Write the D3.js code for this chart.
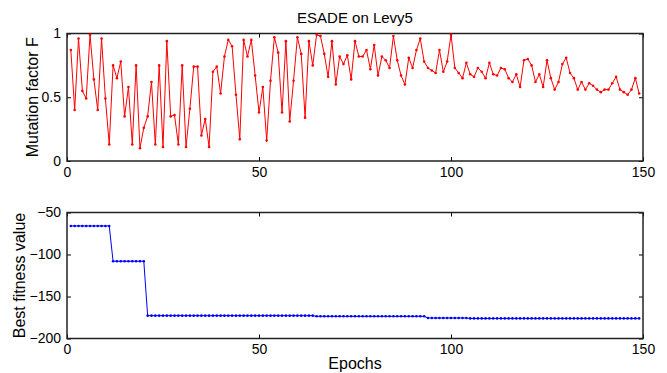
<!DOCTYPE html>
<html>
<head>
<meta charset="utf-8">
<script src="https://cdn.jsdelivr.net/npm/d3@7"></script>
<style>
  body { margin: 0; background: #fff; }
  svg { display: block; font-family: "Liberation Sans", Arial, Helvetica, sans-serif; }
</style>
</head>
<body>
<svg id="chart" width="667" height="373"></svg>
<script>
// F values per epoch (epochs 1..149)
const mutationF = [
  0.87, 0.40, 0.96, 0.55, 0.49, 0.99, 0.64, 0.40, 0.96, 0.49,
  0.13, 0.75, 0.65, 0.78, 0.35, 0.58, 0.13, 0.75, 0.10, 0.26,
  0.35, 0.62, 0.13, 0.75, 0.11, 0.94, 0.35, 0.36, 0.13, 0.75,
  0.11, 0.41, 0.74, 0.74, 0.20, 0.33, 0.11, 0.70, 0.74, 0.53,
  0.82, 0.95, 0.90, 0.52, 0.17, 0.95, 0.82, 0.95, 0.67, 0.38,
  0.58, 0.16, 0.63, 0.97, 0.85, 0.38, 0.94, 0.31, 0.63, 0.97,
  0.84, 0.34, 0.94, 0.75, 0.99, 0.98, 0.84, 0.66, 0.94, 0.60,
  0.82, 0.76, 0.83, 0.64, 0.94, 0.82, 0.82, 0.87, 0.72, 0.91,
  0.67, 0.82, 0.79, 0.73, 0.98, 0.79, 0.67, 0.60, 0.81, 0.73,
  0.87, 0.96, 0.78, 0.73, 0.71, 0.69, 0.87, 0.70, 0.78, 0.99,
  0.73, 0.69, 0.65, 0.77, 0.68, 0.66, 0.73, 0.70, 0.65, 0.77,
  0.68, 0.67, 0.73, 0.72, 0.65, 0.62, 0.68, 0.58, 0.79, 0.80,
  0.75, 0.62, 0.68, 0.58, 0.79, 0.65, 0.56, 0.62, 0.76, 0.81,
  0.69, 0.65, 0.56, 0.62, 0.56, 0.61, 0.59, 0.56, 0.54, 0.56,
  0.56, 0.61, 0.66, 0.56, 0.54, 0.52, 0.56, 0.65, 0.53
];

// best fitness per epoch (epochs 1..149)
const bestFitness = [
  -66, -66, -66, -66, -66, -66, -66, -66, -66, -66,
  -66, -108, -108, -108, -108, -108, -108, -108, -108, -108,
  -172.8, -172.8, -172.8, -172.8, -172.8, -172.8, -172.8, -172.8, -172.8, -172.8,
  -172.8, -172.8, -172.8, -172.8, -172.8, -172.8, -172.8, -172.8, -172.8, -172.8,
  -172.8, -172.8, -172.8, -172.8, -172.8, -172.8, -172.8, -172.8, -172.8, -172.8,
  -172.8, -172.8, -172.8, -172.8, -172.8, -172.8, -172.8, -172.8, -172.8, -172.8,
  -172.8, -172.8, -172.8, -172.8, -173.6, -173.6, -173.6, -173.6, -173.6, -173.6,
  -173.6, -173.6, -173.6, -173.6, -173.6, -173.6, -173.6, -173.6, -173.6, -173.6,
  -173.6, -173.6, -173.6, -173.6, -173.6, -173.6, -173.6, -173.6, -173.6, -173.6,
  -173.6, -173.6, -173.6, -175.6, -175.6, -175.6, -175.6, -175.6, -175.6, -175.6,
  -175.6, -175.6, -175.6, -175.6, -176.1, -176.1, -176.1, -176.1, -176.1, -176.1,
  -176.1, -176.1, -176.1, -176.1, -176.1, -176.1, -176.1, -176.1, -176.1, -176.1,
  -176.1, -176.1, -176.1, -176.1, -176.1, -176.1, -176.1, -176.1, -176.1, -176.1,
  -176.1, -176.1, -176.1, -176.1, -176.1, -176.1, -176.1, -176.1, -176.1, -176.1,
  -176.1, -176.1, -176.1, -176.1, -176.1, -176.1, -176.1, -176.1, -176.1
];

const epochTicks = [0, 50, 100, 150];
const fTicks = [0, 0.5, 1];
const fitnessTicks = [-50, -100, -150, -200];

const svg = d3.select('#chart');
const left = 67, right = 643;

const x = d3.scaleLinear().domain([0, 150]).range([left, right]);

/**
 * Draws one MATLAB-style boxed panel with inward ticks on all sides.
 */
function drawPanel(opts) {
  const y = d3.scaleLinear().domain(opts.yDomain).range([opts.bottom, opts.top]);
  const g = svg.append('g');
  const tickLen = 4;
  const fmt = (d) => (d < 0 ? '\u2212' + Math.abs(d) : String(d));

  const xAxisB = d3.axisBottom(x).tickValues(epochTicks).tickSizeInner(-tickLen)
      .tickSizeOuter(0).tickPadding(6).tickFormat(fmt);
  const xAxisT = d3.axisTop(x).tickValues(epochTicks).tickSizeInner(-tickLen)
      .tickSizeOuter(0).tickFormat('');
  const yAxisL = d3.axisLeft(y).tickValues(opts.yTicks).tickSizeInner(-tickLen)
      .tickSizeOuter(0).tickPadding(6).tickFormat(fmt);
  const yAxisR = d3.axisRight(y).tickValues(opts.yTicks).tickSizeInner(-tickLen)
      .tickSizeOuter(0).tickFormat('');

  g.append('g').attr('transform', 'translate(0,' + opts.bottom + ')').call(xAxisB);
  g.append('g').attr('transform', 'translate(0,' + opts.top + ')').call(xAxisT);
  g.append('g').attr('transform', 'translate(' + left + ',0)').call(yAxisL);
  g.append('g').attr('transform', 'translate(' + right + ',0)').call(yAxisR);
  g.selectAll('.domain').remove();
  g.selectAll('.tick line').attr('stroke', '#000').attr('stroke-width', 1);
  g.selectAll('.tick text').attr('fill', '#000').style('font-size', '14px');

  g.append('rect')
      .attr('x', left).attr('y', opts.top)
      .attr('width', right - left).attr('height', opts.bottom - opts.top)
      .attr('fill', 'none').attr('stroke', '#222').attr('stroke-width', 1.5);

  const pts = opts.data.map((v, i) => [i + 1, v]);
  const line = d3.line().x((d) => x(d[0])).y((d) => y(d[1]));
  g.append('path').datum(pts)
      .attr('d', line).attr('fill', 'none')
      .attr('stroke', opts.color).attr('stroke-width', 1);
  g.selectAll('circle.pt').data(pts).enter().append('circle')
      .attr('class', 'pt')
      .attr('cx', (d) => x(d[0])).attr('cy', (d) => y(d[1]))
      .attr('r', 1.3).attr('fill', opts.color);

  g.append('text')
      .attr('transform', 'translate(' + opts.labelX + ',' + (opts.top + opts.bottom) / 2 + ') rotate(-90)')
      .attr('text-anchor', 'middle')
      .style('font-size', '16px')
      .text(opts.yLabel);
  return g;
}

drawPanel({
  top: 33.5, bottom: 161, yDomain: [0, 1], yTicks: fTicks,
  data: mutationF, color: '#ff0000', yLabel: 'Mutation factor F', labelX: 38
});

drawPanel({
  top: 212.5, bottom: 338.5, yDomain: [-200, -50], yTicks: fitnessTicks,
  data: bestFitness, color: '#0000ff', yLabel: 'Best fitness value', labelX: 25
});

svg.append('text')
    .attr('x', (left + right) / 2).attr('y', 23)
    .attr('text-anchor', 'middle').style('font-size', '15px')
    .text('ESADE on Levy5');

svg.append('text')
    .attr('x', (left + right) / 2).attr('y', 369)
    .attr('text-anchor', 'middle').style('font-size', '16px')
    .text('Epochs');
</script>
</body>
</html>
